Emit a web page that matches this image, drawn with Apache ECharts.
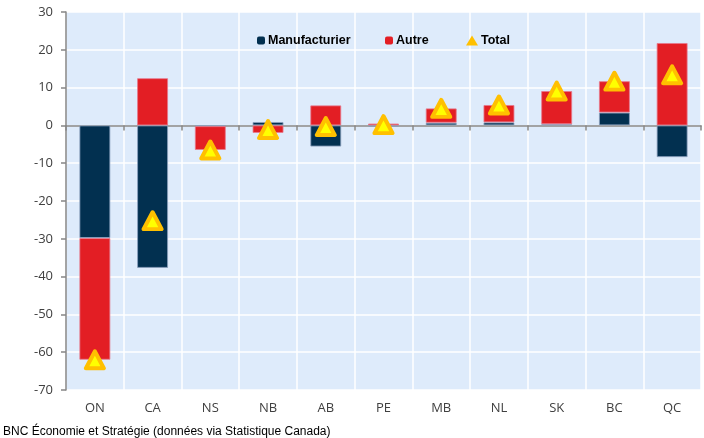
<!DOCTYPE html>
<html>
<head>
<meta charset="utf-8">
<script src="https://cdn.jsdelivr.net/npm/echarts@6/dist/echarts.min.js"></script>
<style>html,body{margin:0;padding:0;background:#fff;}#c{width:704px;height:438px;}</style>
</head>
<body>
<div id="c"></div>
<script>
var categories = ['ON','CA','NS','NB','AB','PE','MB','NL','SK','BC','QC'];
var manufacturier = [-29.8, -37.7, -0.2, 0.9, -5.6, -0.3, 0.7, 0.8, 0.3, 3.4, -8.4];
var autre = [-32.2, 12.5, -6.3, -2.0, 5.3, 0.5, 3.8, 4.6, 8.8, 8.3, 21.8];
var total = [-62.0, -25.2, -6.5, -1.1, -0.3, 0.2, 4.5, 5.4, 9.1, 11.7, 13.4];
var yTicks = { min: -70, max: 30, interval: 10 };
var sourceText = 'BNC Économie et Stratégie (données via Statistique Canada)';

var chart = echarts.init(document.getElementById('c'), null, { renderer: 'canvas' });
var legendText = { fontFamily: 'Arial, "Liberation Sans"', fontSize: 12.5, fontWeight: 'bold', color: '#000', padding: [0, 0, 0, -2] };
chart.setOption({
  animation: false,
  grid: { left: 66, right: 3, top: 12, bottom: 48, show: true, backgroundColor: '#DEEBFB', borderWidth: 0 },
  legend: [
    { data: [{ name: 'Manufacturier', itemStyle: { borderWidth: 0 } }], left: 257, top: 34, itemWidth: 8, itemHeight: 8, textStyle: legendText, padding: 0 },
    { data: [{ name: 'Autre', itemStyle: { borderWidth: 0 } }], left: 385, top: 34, itemWidth: 8, itemHeight: 8, textStyle: legendText, padding: 0 },
    { data: [{ name: 'Total', icon: 'triangle', itemStyle: { color: '#FFC000', borderWidth: 0 } }], left: 466, top: 34, itemWidth: 12, itemHeight: 10, textStyle: legendText, padding: 0 }
  ],
  xAxis: [
    {
      type: 'category', data: categories, position: 'bottom',
      axisLine: { show: false, onZero: false }, axisTick: { show: false },
      axisLabel: { fontFamily: '"Open Sans"', fontSize: 13, color: '#404040', margin: 12 },
      splitLine: { show: true, lineStyle: { color: '#FFFFFF', width: 1.5 } }
    },
    {
      type: 'category', data: categories, position: 'bottom',
      axisLine: { show: true, onZero: true, lineStyle: { color: '#868686', width: 1.5 } },
      axisTick: { show: true, length: 5, lineStyle: { color: '#868686', width: 1.5 } },
      axisLabel: { show: false }, splitLine: { show: false }
    }
  ],
  yAxis: {
    type: 'value', min: yTicks.min, max: yTicks.max, interval: yTicks.interval,
    axisLine: { show: true, lineStyle: { color: '#868686', width: 1.5 } },
    axisTick: { show: true, length: 5, lineStyle: { color: '#868686', width: 1.5 } },
    axisLabel: { fontFamily: '"Open Sans"', fontSize: 13, color: '#404040', margin: 13 },
    splitLine: { show: true, lineStyle: { color: '#FFFFFF', width: 1.5 } }
  },
  series: [
    { name: 'Manufacturier', type: 'bar', stack: 'a', xAxisIndex: 0, data: manufacturier, barWidth: 31,
      itemStyle: { color: '#023050', borderColor: 'rgba(140,160,190,0.8)', borderWidth: 1 } },
    { name: 'Autre', type: 'bar', stack: 'a', xAxisIndex: 0, data: autre, barWidth: 31,
      itemStyle: { color: '#E31E24', borderColor: 'rgba(230,120,140,0.8)', borderWidth: 1 } },
    { name: 'Total', type: 'scatter', xAxisIndex: 0, data: total, symbol: 'triangle', symbolSize: [18, 17],
      itemStyle: { color: '#FFFF00', borderColor: '#FFC000', borderWidth: 4, borderJoin: 'round', opacity: 1 }, z: 5 }
  ],
  graphic: [
    { type: 'text', left: 3, top: 426, style: { text: sourceText, fontFamily: 'Arial, "Liberation Sans"', fontSize: 12, fill: '#000' } }
  ]
});
</script>
</body>
</html>
